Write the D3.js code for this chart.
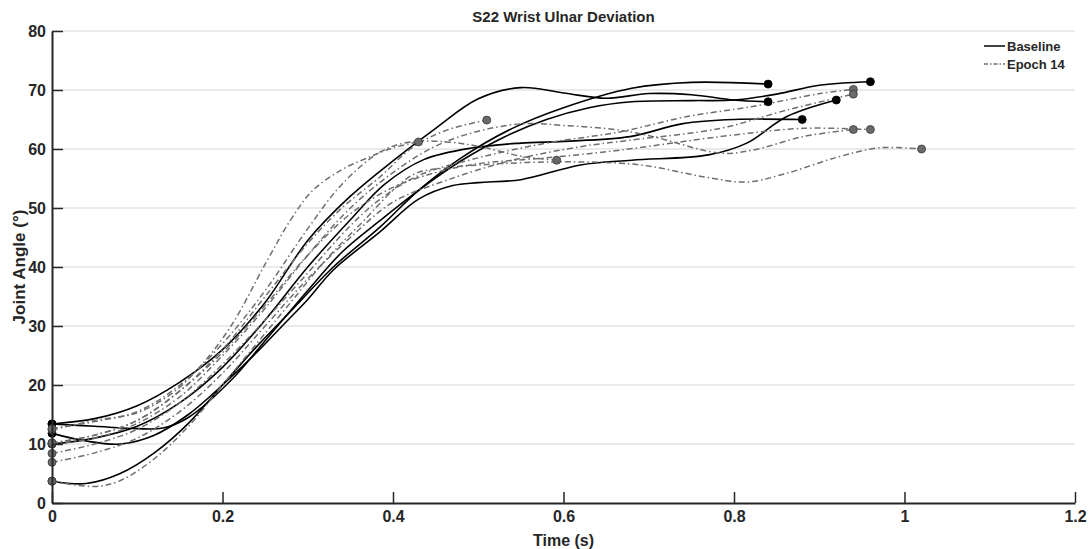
<!DOCTYPE html>
<html>
<head>
<meta charset="utf-8">
<script src="https://cdn.jsdelivr.net/npm/d3@7"></script>
<style>
  html, body { margin: 0; padding: 0; background: #fff; }
  svg text { font-family: "Liberation Sans", Arial, sans-serif; font-weight: bold; fill: #262626; }
</style>
</head>
<body>
<div id="chart"></div>
<script>
// Trial traces, [time (s), joint angle (deg)]
const baselineTrials = [
  [[0,13.4],[0.05,14.3],[0.1,16.5],[0.15,20.5],[0.2,26],[0.25,34],[0.3,44.5],[0.35,52],[0.4,58],[0.45,63.5],[0.5,68.5],[0.55,70.4],[0.6,69.5],[0.65,68.6],[0.7,69.4],[0.75,69.2],[0.8,68.3],[0.84,68]],
  [[0,13.4],[0.05,13],[0.1,12.6],[0.13,12.7],[0.16,14.5],[0.21,20.8],[0.25,27.5],[0.3,36],[0.34,42.5],[0.385,47.9],[0.43,53],[0.48,58],[0.53,62],[0.58,65],[0.63,67],[0.68,68],[0.75,68.2],[0.8,68.3],[0.85,69.3],[0.9,70.8],[0.96,71.4]],
  [[0,3.7],[0.04,3.3],[0.08,5],[0.12,8.5],[0.16,13.5],[0.2,20],[0.24,26.5],[0.28,32.5],[0.33,40],[0.385,46.8],[0.43,53],[0.48,58.5],[0.54,63.5],[0.6,67],[0.68,70.3],[0.75,71.3],[0.84,71]],
  [[0,11.8],[0.04,10.5],[0.08,10],[0.12,11.5],[0.16,15],[0.2,20],[0.24,25.5],[0.27,30],[0.3,34.5],[0.33,39.5],[0.385,46],[0.43,51.5],[0.47,53.8],[0.5,54.3],[0.55,54.8],[0.62,57.3],[0.68,58.1],[0.77,59],[0.815,61],[0.862,65.5],[0.92,68.3]],
  [[0,10],[0.05,11],[0.1,13],[0.15,17],[0.2,23],[0.25,31],[0.3,40],[0.35,48],[0.39,54],[0.436,58.2],[0.494,60.2],[0.55,61],[0.6,61.3],[0.678,62.1],[0.74,64.3],[0.8,65],[0.88,65]]
];
const epochTrials = [
  [[0,12.4],[0.05,14],[0.1,15.3],[0.14,18.5],[0.173,23],[0.21,30],[0.252,41],[0.28,48],[0.306,53],[0.34,56.5],[0.37,58.5],[0.4,60.2],[0.43,61.2]],
  [[0,10.1],[0.05,11.5],[0.1,14],[0.15,19],[0.2,26],[0.25,35],[0.3,44],[0.34,50],[0.385,55.3],[0.423,60.3],[0.463,63.2],[0.51,64.9]],
  [[0,12.6],[0.05,13.8],[0.1,15.5],[0.15,20],[0.2,27],[0.25,36],[0.3,46.5],[0.34,54],[0.385,59.5],[0.42,61.2],[0.463,61.2],[0.502,60.4],[0.553,58.7],[0.592,58.1]],
  [[0,8.4],[0.05,10],[0.1,12.5],[0.15,17],[0.2,23.5],[0.25,31],[0.3,39],[0.35,47],[0.385,51.5],[0.43,55.5],[0.5,58.5],[0.58,61],[0.666,62.9],[0.745,65.5],[0.822,67.2],[0.901,69.4],[0.94,70.1]],
  [[0,6.9],[0.05,8.5],[0.1,11],[0.15,15.5],[0.2,22],[0.25,30],[0.3,38],[0.35,45],[0.4,51],[0.463,54.7],[0.54,58.1],[0.62,60.4],[0.678,61.5],[0.784,63.5],[0.862,66.6],[0.94,69.3]],
  [[0,10],[0.05,11],[0.1,13.5],[0.15,18],[0.2,25],[0.25,33],[0.3,42],[0.35,50],[0.4,56],[0.45,60.5],[0.5,63],[0.553,64.3],[0.6,64],[0.666,63.2],[0.705,62.1],[0.784,59.3],[0.822,59.8],[0.881,62.1],[0.94,63.3]],
  [[0,10.2],[0.05,11.5],[0.1,14],[0.15,19],[0.2,25.5],[0.25,33.5],[0.3,42],[0.35,49],[0.4,53.5],[0.45,56],[0.5,57.5],[0.58,58.5],[0.666,59.8],[0.784,62.1],[0.881,63.5],[0.96,63.3]],
  [[0,3.7],[0.05,2.8],[0.08,3.8],[0.12,7.5],[0.16,13],[0.2,20],[0.24,27],[0.28,34],[0.32,41],[0.36,47],[0.423,55.6],[0.463,56.8],[0.502,57.3],[0.58,57.8],[0.666,57.6],[0.705,57],[0.764,55.3],[0.815,54.4],[0.862,55.9],[0.921,58.6],[0.971,60.2],[1.02,60]]
];
const xTicks = [0, 0.2, 0.4, 0.6, 0.8, 1, 1.2];
const yTicks = [0, 10, 20, 30, 40, 50, 60, 70, 80];
const legendLabels = ["Baseline", "Epoch 14"];

const W = 1090, H = 549;
const margin = { top: 31, right: 15, bottom: 46, left: 52 };
const w = W - margin.left - margin.right, h = H - margin.top - margin.bottom;
const AXIS = "#262626";

const svg = d3.select("#chart").append("svg")
  .attr("width", W).attr("height", H).attr("viewBox", `0 0 ${W} ${H}`);
const g = svg.append("g").attr("transform", `translate(${margin.left},${margin.top})`);

const x = d3.scaleLinear().domain([0, 1.2]).range([0, w]);
const y = d3.scaleLinear().domain([0, 80]).range([h, 0]);

// horizontal grid
g.append("g").selectAll("line").data(yTicks.slice(1)).join("line")
  .attr("x1", 0).attr("x2", w)
  .attr("y1", d => y(d)).attr("y2", d => y(d))
  .attr("stroke", "#e3e3e3").attr("stroke-width", 1.5);

const line = d3.line().x(d => x(d[0])).y(d => y(d[1])).curve(d3.curveCatmullRom.alpha(0.5));

// baseline traces (solid black)
g.append("g").selectAll("path").data(baselineTrials).join("path")
  .attr("d", line).attr("fill", "none")
  .attr("stroke", "#000").attr("stroke-width", 1.6);

// epoch 14 traces (grey dash-dot)
g.append("g").selectAll("path").data(epochTrials).join("path")
  .attr("d", line).attr("fill", "none")
  .attr("stroke", "#6e6e6e").attr("stroke-width", 1.5)
  .attr("stroke-dasharray", "6,3,1.5,3");

// start / end markers
const ends = tr => [tr[0], tr[tr.length - 1]];
g.append("g").selectAll("circle").data(baselineTrials.flatMap(ends)).join("circle")
  .attr("cx", d => x(d[0])).attr("cy", d => y(d[1])).attr("r", 4)
  .attr("fill", "#000").attr("stroke", "#000").attr("stroke-width", 0.8);
g.append("g").selectAll("circle").data(epochTrials.flatMap(ends)).join("circle")
  .attr("cx", d => x(d[0])).attr("cy", d => y(d[1])).attr("r", 4)
  .attr("fill", "#6a6a6a").attr("stroke", "#3a3a3a").attr("stroke-width", 0.8);

// axes (MATLAB style, ticks pointing inward)
const xAxis = g.append("g").attr("transform", `translate(0,${h})`)
  .call(d3.axisBottom(x).tickValues(xTicks).tickSizeInner(-11).tickSizeOuter(0)
    .tickPadding(8).tickFormat(d3.format("~g")));
const yAxis = g.append("g")
  .call(d3.axisLeft(y).tickValues(yTicks).tickSizeInner(-11).tickSizeOuter(0).tickPadding(6));
[xAxis, yAxis].forEach(a => {
  a.select(".domain").attr("stroke", AXIS).attr("stroke-width", 2);
  a.selectAll(".tick line").attr("stroke", AXIS).attr("stroke-width", 1.5);
  a.selectAll(".tick text").style("font-size", "16px").attr("fill", AXIS);
});
yAxis.selectAll(".tick text").attr("dy", "0.36em");

// title and axis labels
svg.append("text").attr("x", margin.left + w / 2).attr("y", 22)
  .attr("text-anchor", "middle").style("font-size", "15px")
  .text("S22 Wrist Ulnar Deviation");
svg.append("text").attr("x", margin.left + w / 2).attr("y", 546)
  .attr("text-anchor", "middle").style("font-size", "16px").text("Time (s)");
svg.append("text").attr("transform", `translate(25,${margin.top + h / 2}) rotate(-90)`)
  .attr("text-anchor", "middle").style("font-size", "17px").text("Joint Angle (°)");

// legend
const lg = svg.append("g").attr("transform", "translate(984,46)");
legendLabels.forEach((lab, i) => {
  const row = lg.append("g").attr("transform", `translate(0,${i * 18})`);
  row.append("line").attr("x1", 0).attr("x2", 21).attr("y1", 0).attr("y2", 0)
    .attr("stroke", i ? "#6e6e6e" : "#000").attr("stroke-width", 1.5)
    .attr("stroke-dasharray", i ? "4,2,1.5,2" : null);
  row.append("text").attr("x", 23).attr("y", 0).attr("dy", "0.35em")
    .style("font-size", "13px").attr("fill", "#000").text(lab);
});
</script>
</body>
</html>
